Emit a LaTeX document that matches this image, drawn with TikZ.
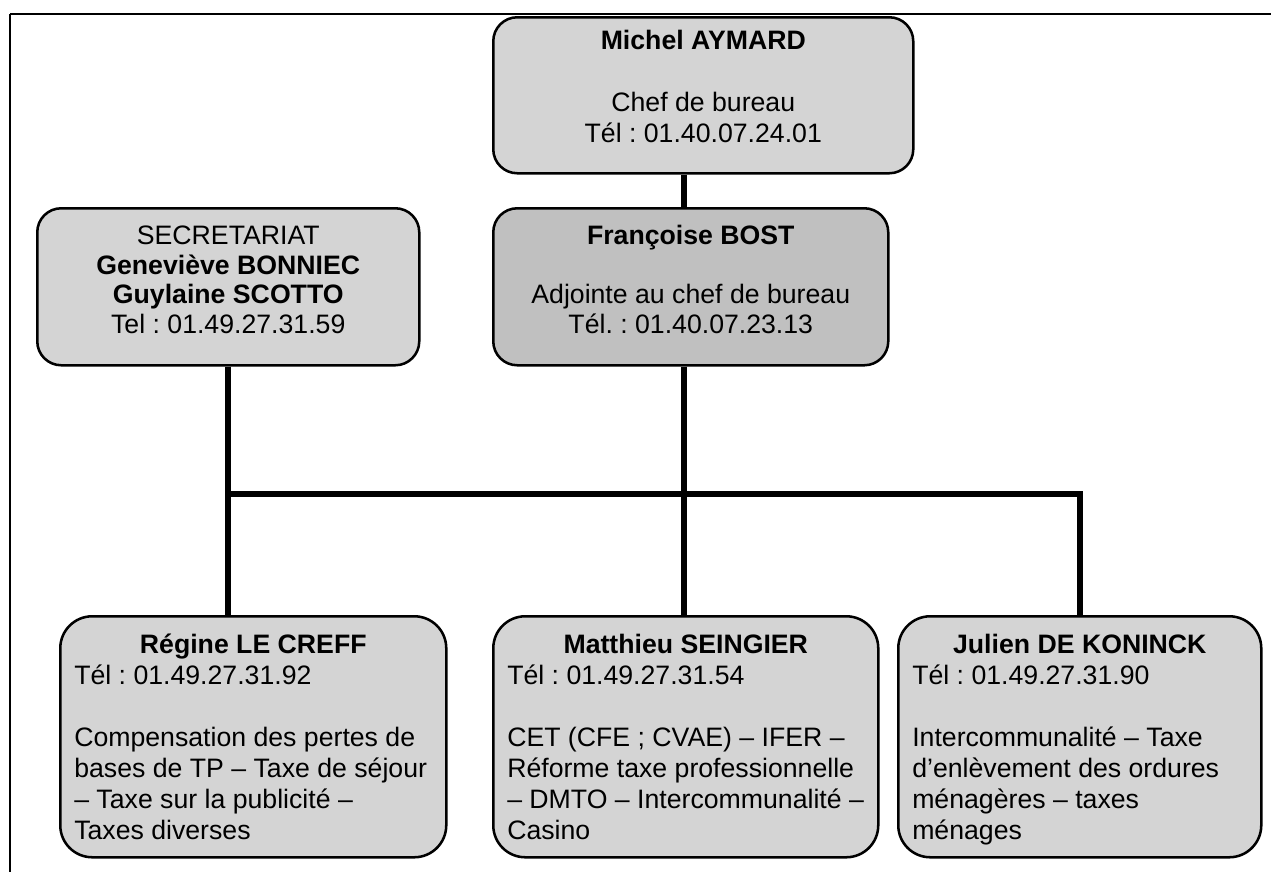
\documentclass[tikz,border=0pt]{standalone}
\usepackage{fontspec}
\setmainfont{Liberation Sans}
\definecolor{boxfill}{RGB}{212,212,212}
\definecolor{boxdark}{RGB}{192,192,192}
\newcommand{\orgtext}[4]{\parbox[c][#2][t]{#1}{\fontsize{20pt}{#3}\selectfont\frenchspacing #4}}
\tikzset{
  orgbox/.style={draw, line width=1.9pt, fill=boxfill, inner ysep=0pt, anchor=north west},
  topbox/.style={orgbox, rounded corners=18pt, inner xsep=5pt},
  lowbox/.style={orgbox, rounded corners=24pt, inner xsep=10.5pt},
  conn/.style={line width=4.5pt}
}
\begin{document}
\begin{tikzpicture}[x=0.75pt, y=-0.75pt]
\useasboundingbox (0,0) rectangle (1271,872);
% frame
\draw[line width=2.2pt] (10,14) -- (1271,14);
\draw[line width=1.6pt] (10,14) -- (10,872);
% boxes
\node[topbox] (ma) at (492,16) {\orgtext{305pt}{117pt}{23.25pt}{\centering\rule{0pt}{24pt}\textbf{Michel AYMARD}\\\mbox{}\\Chef de bureau\\Tél : 01.40.07.24.01}};
\node[topbox, fill=boxdark] (fb) at (492,207) {\orgtext{286.25pt}{117.75pt}{22.3pt}{\centering\rule{0pt}{27pt}\textbf{Françoise BOST}\\\mbox{}\\Adjointe au chef de bureau\\Tél. : 01.40.07.23.13}};
\node[topbox] (sec) at (36,207) {\orgtext{276.5pt}{117.75pt}{22.3pt}{\centering\rule{0pt}{27pt}SECRETARIAT\\\textbf{Geneviève BONNIEC}\\\textbf{Guylaine SCOTTO}\\Tel : 01.49.27.31.59}};
\node[lowbox] (rcf) at (59,615) {\orgtext{268.5pt}{180.75pt}{23.25pt}{{\centering\rule{0pt}{27.75pt}\textbf{Régine LE CREFF}\par}\raggedright Tél : 01.49.27.31.92\\\mbox{}\\Compensation des pertes de\\bases de TP – Taxe de séjour\\– Taxe sur la publicité –\\Taxes diverses}};
\node[lowbox] (mat) at (492,615) {\orgtext{267.75pt}{180.75pt}{23.25pt}{{\centering\rule{0pt}{27.75pt}\textbf{Matthieu SEINGIER}\par}\raggedright Tél : 01.49.27.31.54\\\mbox{}\\CET (CFE ; CVAE) – IFER –\\Réforme taxe professionnelle\\– DMTO – Intercommunalité –\\Casino}};
\node[lowbox] (jdk) at (897,615) {\orgtext{251.25pt}{180.75pt}{23.25pt}{{\centering\rule{0pt}{27.75pt}\textbf{Julien DE KONINCK}\par}\raggedright Tél : 01.49.27.31.90\\\mbox{}\\Intercommunalité – Taxe\\d’enlèvement des ordures\\ménagères – taxes\\ménages}};
% connectors
\coordinate (bus) at (684,494);
\draw[conn] (ma.south -| bus) -- (fb.north -| bus);
\draw[conn] (fb.south -| bus) -- (mat.north -| bus);
\draw[conn] (sec.south) -- (sec.south |- rcf.north);
\draw[conn] (sec.south |- bus) -- (jdk.north |- bus) -- (jdk.north);
\end{tikzpicture}
\end{document}
